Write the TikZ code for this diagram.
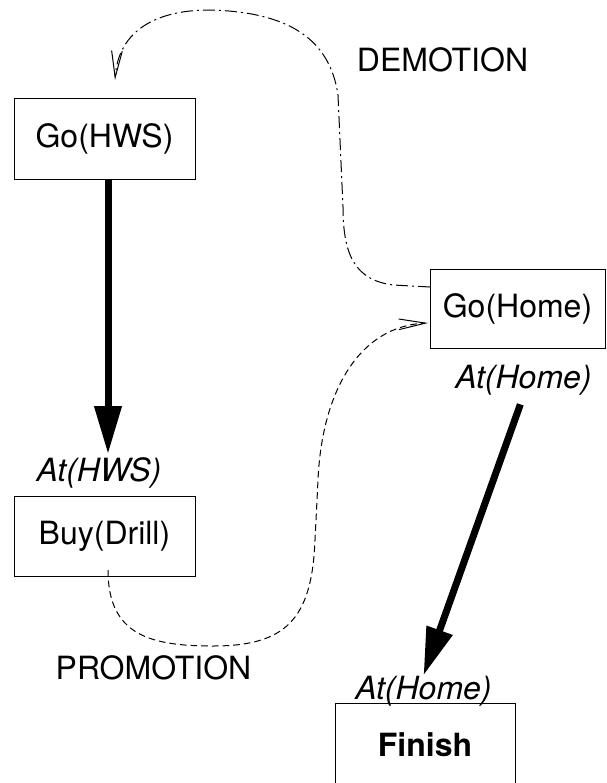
\documentclass[tikz,border=0pt]{standalone}
\usepackage{fontspec}
\setmainfont{TeX Gyre Heros}
\usetikzlibrary{arrows.meta,calc}

\tikzset{
  every picture/.style={line width=0.75pt},
  planbox/.style={draw, rectangle, inner sep=0pt, outer sep=0pt, font=\fontsize{24pt}{28pt}\selectfont},
  cond/.style={inner sep=0pt, font=\fontsize{24pt}{28pt}\selectfont\itshape},
  tag/.style={inner sep=0pt, font=\fontsize{24pt}{28pt}\selectfont},
  causal/.style={line width=5.25pt, -{Triangle[length=36pt,width=19.5pt]}},
  threat/.style={line width=0.75pt, -{Straight Barb[length=20pt,width=8pt,line width=0.75pt]}},
}

\begin{document}
\begin{tikzpicture}[x=0.75pt,y=0.75pt,yscale=-1,xscale=1]
\clip (0,0) rectangle (607,783);
\fill[white] (0,0) rectangle (607,783);

%Shape: Rectangle [id:hws]
\node [planbox, minimum width=135.75pt, minimum height=60.75pt] (hws) at (104.5,138.5) {Go(HWS)};
%Shape: Rectangle [id:buy]
\node [planbox, minimum width=135.75pt, minimum height=60pt] (buy) at (104.5,536) {Buy(Drill)};
%Shape: Rectangle [id:gohome]
\node [planbox, minimum width=131.25pt, minimum height=59.25pt] (gohome) at (517.5,308.5) {Go(Home)};
%Shape: Rectangle [id:finish]
\node [planbox, minimum width=135pt, minimum height=63pt, font=\fontsize{24pt}{28pt}\selectfont\bfseries] (finish) at (425,745) {Finish};

% Text Node
\node [cond] (athws) at (99,473) {At(HWS)};
% Text Node
\node [cond] (athome) at (523.5,380) {At(Home)};
% Text Node
\node [cond] (athomefin) at (423.5,691) {At(Home)};
% Text Node
\node [tag] (demotion) at (442.5,60) {DEMOTION};
% Text Node
\node [tag] (promotion) at (153.5,667.5) {PROMOTION};

%Straight Lines [id:causal1]
\draw [causal] ($(hws.south)+(3.5,0)$) -- ($(athws.north)+(9,-3)$);
%Straight Lines [id:causal2]
\draw [causal, shorten <=7] (athome.south) -- (athomefin.north);

%Curve Lines [id:demote]
\draw [threat, dash pattern={on 9pt off 3pt on 1.5pt off 3pt}] ($(gohome.west)+(0,-21.5)$) -- (393,285) .. controls (355,280) and (343,255) .. (343,207) -- (338,95) .. controls (330,40) and (290,12) .. (210,10) .. controls (150,10) and (118,35) .. ($(hws.north)+(10.5,-18)$);
%Curve Lines [id:promote]
\draw [threat, dash pattern={on 5pt off 3pt}] ($(buy.south)+(3.5,-6)$) .. controls (108,635) and (150,646) .. (213,646) .. controls (285,646) and (312,620) .. (315,540) -- (318,480) .. controls (322,390) and (360,326) .. ($(gohome.west)+(-2,14.5)$);

\end{tikzpicture}
\end{document}
